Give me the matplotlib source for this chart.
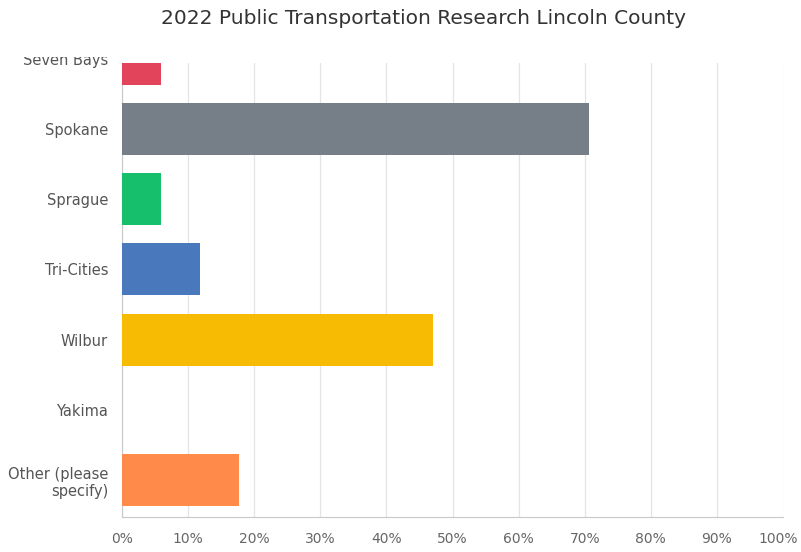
import numpy as np
import matplotlib.pyplot as plt
from matplotlib.transforms import Bbox, TransformedBbox, ScaledTranslation

categories = ["Seven Bays", "Spokane", "Sprague", "Tri-Cities", "Wilbur", "Yakima",
              "Other (please\nspecify)"]
values = [5.88, 70.59, 5.88, 11.76, 47.06, 0.0, 17.65]
colors = ["#e2445c", "#767f88", "#16bf6c", "#4a78bd", "#f7bb03", "#9b59b6", "#ff8a4a"]
xticks = np.arange(0, 101, 10)
xlabels = [f"{t}%" for t in xticks]
title = "2022 Public Transportation Research Lincoln County"

plt.rcParams['font.family'] = ['DejaVu Sans']

fig = plt.figure(figsize=(8.01, 5.52), dpi=100)
ax = fig.add_axes([122 / 801, 35 / 552, 661 / 801, 454 / 552])

y = np.arange(len(categories))
ax.barh(y, values, height=0.74, color=colors, zorder=3)

ax.set_xticks(xticks)
ax.set_xticklabels(xlabels)
ax.set_yticks(y[1:])
ax.set_yticklabels(categories[1:])
ax.set_xlim(0, 100)
ax.set_ylim(6.527, 0.06)
ax.tick_params(axis='x', length=0, pad=11, labelsize=10, labelcolor='#666666')
ax.tick_params(axis='y', length=0, pad=10, labelsize=10.5, labelcolor='#555555')
ax.grid(axis='x', color='#e4e4e4', linewidth=0.9, zorder=0)

for side in ['top', 'right']:
    ax.spines[side].set_visible(False)
ax.spines['left'].set_color('#c8c8c8')
ax.spines['bottom'].set_color('#c8c8c8')

# keep "100%" inside the picture like the reference
last = ax.get_xticklabels()[-1]
last.set_transform(last.get_transform() + ScaledTranslation(-0.05, 0, fig.dpi_scale_trans))

# first category sits above the scrolled view, only its lower half shows
trans, va, ha = ax.get_yaxis_text1_transform(10)
t = ax.text(0, y[0], categories[0], transform=trans, va=va, ha=ha,
            fontsize=10.5, color='#555555')
t.set_clip_path(None)
t.set_clip_box(TransformedBbox(Bbox([[0, 0], [1, 1 - 57 / 552]]), fig.transFigure))
t.set_clip_on(True)

fig.text(424 / 801, 1 - 18 / 552, title, ha='center', va='center',
         fontsize=14.5, color='#333333')

fig.savefig("out.png", dpi=100)
